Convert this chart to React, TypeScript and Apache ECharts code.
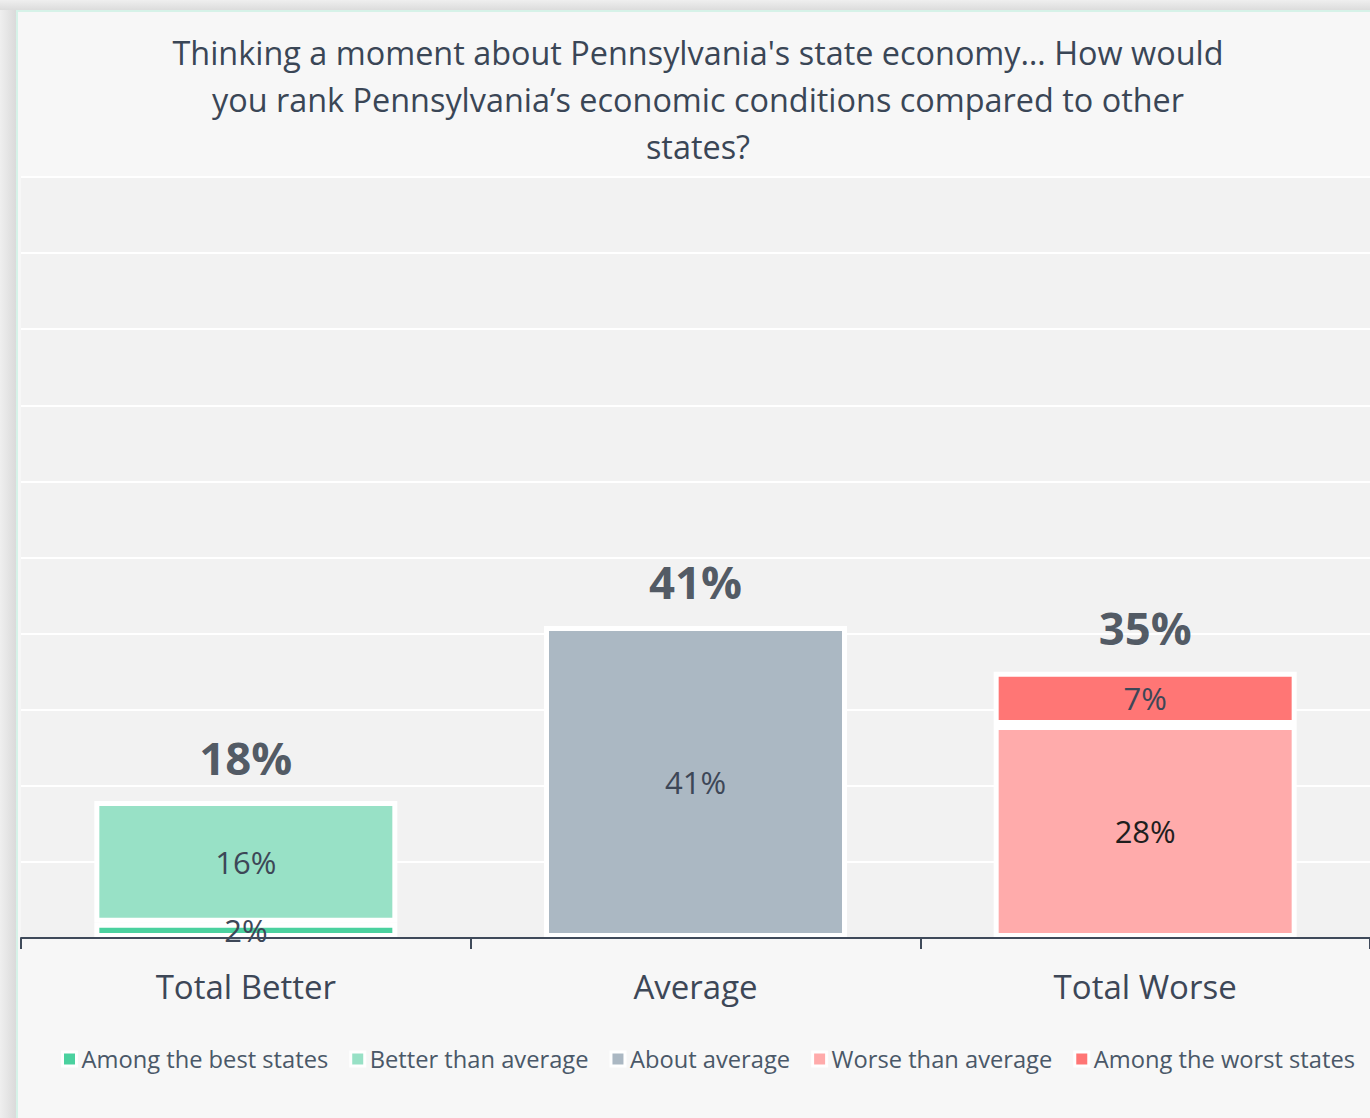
import React, { useEffect, useRef } from "react";
import * as echarts from "echarts";

const categories = ["Total Better", "Average", "Total Worse"];
const seriesNames = [
  "Among the best states",
  "Better than average",
  "About average",
  "Worse than average",
  "Among the worst states",
];
const bestValues = [2, null, null];
const betterValues = [16, null, null];
const aboutValues = [null, 41, null];
const worseValues = [null, null, 28];
const worstValues = [null, null, 7];
const totals = [18, 41, 35];
const colors = ["#4bd19f", "#98e1c6", "#abb8c3", "#ffabab", "#ff7675"];
const labelColors = ["#3d4757", "#3d4757", "#3d4757", "#1e1e1e", "#3d4757"];
const titleText =
  "Thinking a moment about Pennsylvania's state economy… How would\nyou rank Pennsylvania’s economic conditions compared to other\nstates?";

const FONT = "'Open Sans', sans-serif";

export default function App() {
  const ref = useRef<HTMLDivElement>(null);
  useEffect(() => {
    if (!ref.current) return;
    const chart = echarts.init(ref.current, null, { renderer: "svg" });
    const valueSets = [bestValues, betterValues, aboutValues, worseValues, worstValues];
    const bars = seriesNames.map((name, i) => ({
      name,
      type: "bar",
      stack: "total",
      barWidth: 303,
      data: valueSets[i].map((v) => (v == null ? "-" : v)),
      itemStyle: { color: colors[i], borderColor: "#ffffff", borderWidth: 5 },
      label: {
        show: true,
        position: "inside",
        formatter: (p: any) => `${p.value}%`,
        fontFamily: FONT,
        fontSize: 31,
        color: labelColors[i],
      },
    }));
    chart.setOption({
      animation: false,
      textStyle: { fontFamily: FONT },
      graphic: [
        {
          type: "text",
          x: 698,
          y: 28,
          style: {
            text: titleText,
            fontFamily: FONT,
            fontSize: 32.4,
            lineHeight: 47,
            fill: "#3a4656",
            align: "center",
            verticalAlign: "top",
          },
        },
      ],
      grid: {
        left: 21,
        right: 0,
        top: 177,
        bottom: 180,
        show: true,
        backgroundColor: "#f2f2f2",
        borderWidth: 0,
      },
      legend: {
        data: seriesNames,
        left: 56,
        top: 1042,
        itemWidth: 14,
        itemHeight: 14,
        itemGap: 21,
        icon: "rect",
        itemStyle: { borderColor: "#ffffff", borderWidth: 3 },
        textStyle: { fontFamily: FONT, fontSize: 23.7, color: "#4a5868" },
      },
      xAxis: {
        type: "category",
        data: categories,
        z: 10,
        axisLine: { show: true, lineStyle: { color: "#3f4a5a", width: 2 } },
        axisTick: { show: true, length: 11, lineStyle: { color: "#3f4a5a", width: 2 } },
        axisLabel: { fontFamily: FONT, fontSize: 33, color: "#3d4757", margin: 32 },
      },
      yAxis: {
        type: "value",
        min: 0,
        max: 100,
        interval: 10,
        axisLine: { show: false },
        axisTick: { show: false },
        axisLabel: { show: false },
        splitLine: { show: true, lineStyle: { color: "#ffffff", width: 2 } },
      },
      series: [
        ...bars,
        {
          name: "total",
          type: "scatter",
          data: totals,
          symbolSize: 1,
          itemStyle: { color: "rgba(0,0,0,0)" },
          z: 5,
          label: {
            show: true,
            position: "top",
            distance: 21,
            formatter: (p: any) => `${p.value}%`,
            fontFamily: FONT,
            fontSize: 45.5,
            fontWeight: "bold",
            color: "#27313e",
          },
        },
      ],
    });
    return () => chart.dispose();
  }, []);

  return (
    <div style={{ position: "absolute", left: 0, top: 0, width: 1370, height: 1118, background: "#e4e4e4", overflow: "hidden" }}>
      <div style={{ position: "absolute", left: 0, top: 0, width: 16, height: 1118, background: "linear-gradient(to right, #efefef, #dadada)" }} />
      <div style={{ position: "absolute", left: 0, top: 0, width: 1370, height: 10, background: "linear-gradient(to bottom, #efefef, #dcdcdc)" }} />
      <div style={{ position: "absolute", left: 16, top: 10, width: 1354, height: 1108, background: "#f7f7f7", borderLeft: "2px solid #d6f2e8", borderTop: "2px solid #d6f2e8", boxSizing: "border-box" }} />
      <div ref={ref} style={{ position: "absolute", left: 0, top: 0, width: 1370, height: 1118 }} />
    </div>
  );
}
